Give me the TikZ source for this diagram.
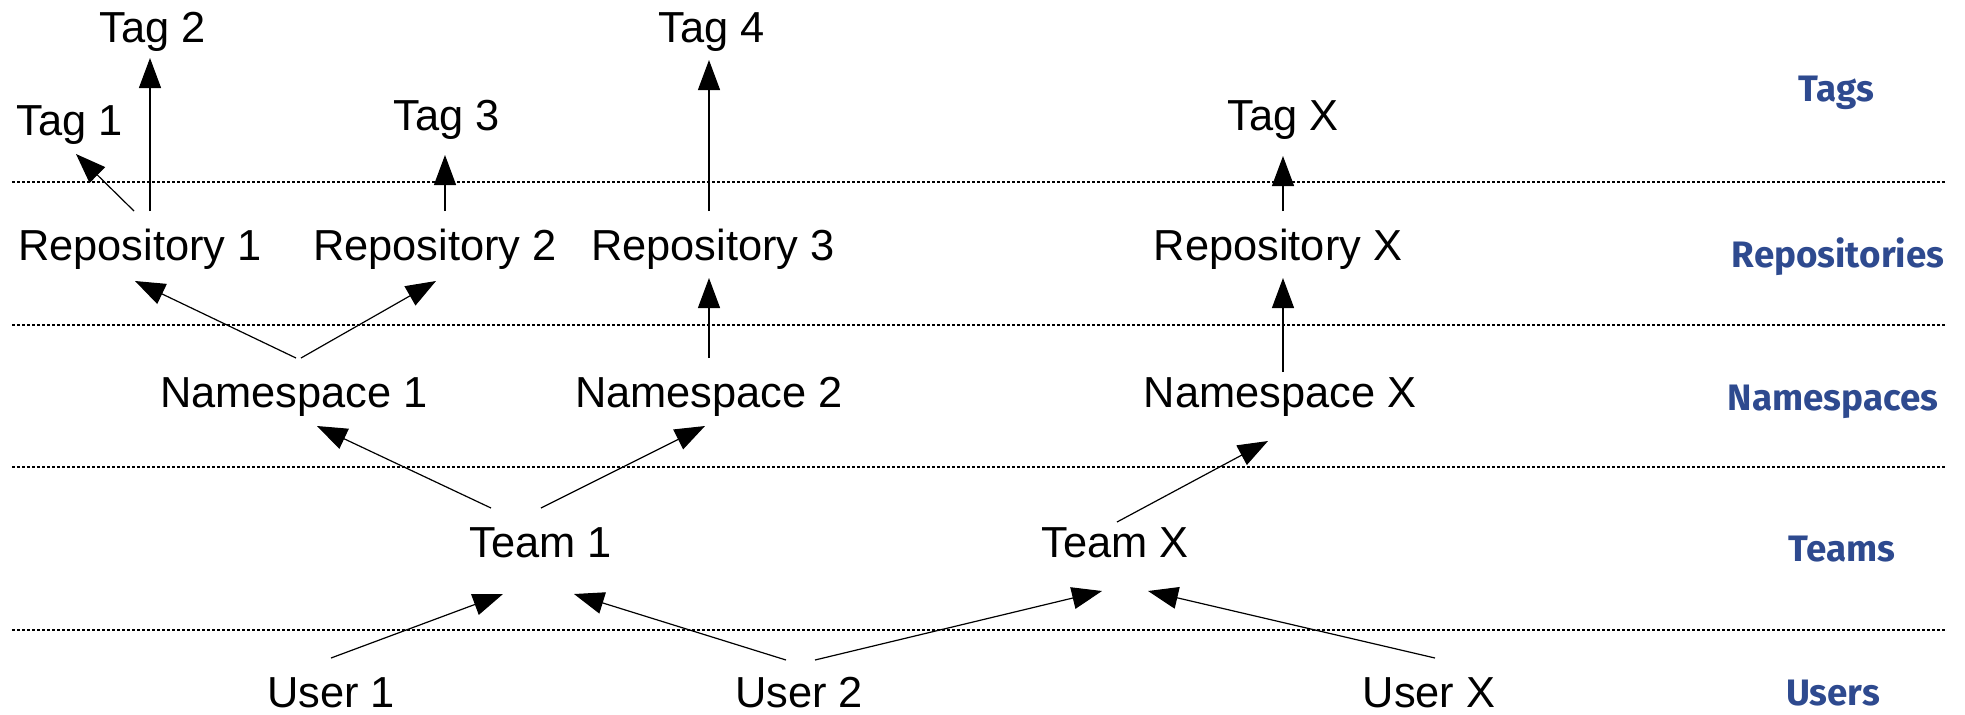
\documentclass[tikz,border=0pt]{standalone}
\usepackage{fontspec}
\setmainfont{Liberation Sans}
\newfontfamily\layerfont{Fira Sans}
\usetikzlibrary{arrows.meta,calc}
\definecolor{layerblue}{HTML}{2E4A8F}
\tikzset{
  item/.style={anchor=base, inner sep=0pt, font=\fontsize{21.7}{26}\selectfont},
  layer/.style={text=layerblue, inner sep=0pt, font=\layerfont\bfseries\fontsize{18.4}{22}\selectfont},
  link/.style={-{Triangle[length=15pt,width=11pt]}, line width=0.6pt},
  sep/.style={dash pattern=on 1.5pt off 1pt, line width=0.6pt}
}
\begin{document}
\begin{tikzpicture}[x=0.5pt,y=-0.5pt]
  \useasboundingbox (0,0) rectangle (1965,714);
  % layer separators
  \foreach \h in {182,325,467,630}
    \draw[sep] (12,\h) -- (1945,\h);

  \node[item] (tag1) at (70,135) {Tag 1};
  \node[item] (tag2) at (153,42) {Tag 2};
  \node[item] (tag3) at (447,130) {Tag 3};
  \node[item] (tag4) at (712,42) {Tag 4};
  \node[item] (tagx) at (1283,130) {Tag X};

  \node[item] (repo1) at (140,260) {Repository 1};
  \node[item] (repo2) at (435,260) {Repository 2};
  \node[item] (repo3) at (713,260) {Repository 3};
  \node[item] (repox) at (1278,260) {Repository X};

  \node[item] (ns1) at (294,407) {Namespace 1};
  \node[item] (ns2) at (709,407) {Namespace 2};
  \node[item] (nsx) at (1280,407) {Namespace X};

  \node[item] (team1) at (541,557) {Team 1};
  \node[item] (teamx) at (1115,557) {Team X};

  \node[item] (user1) at (331,707) {User 1};
  \node[item] (user2) at (799,707) {User 2};
  \node[item] (userx) at (1429,707) {User X};

  \node[layer] (ltags) at (1836,93) {Tags};
  \node[layer] (lrepos) at (1838,257) {Repositories};
  \node[layer] (lns) at (1833,402) {Namespaces};
  \node[layer] (lteams) at (1842,549) {Teams};
  \node[layer] (lusers) at (1833,693) {Users};

  % repositories to tags
  \draw[link] ($(repo1.base)+(-6,-49)$) -- ($(tag1.base)+(6,19)$);
  \draw[link] ($(repo1.base)+(10,-49)$) -- ($(tag2.base)+(-3,16)$);
  \draw[link] ($(repo2.base)+(10,-49)$) -- ($(tag3.base)+(-2,25)$);
  \draw[link] ($(repo3.base)+(-4,-49)$) -- ($(tag4.base)+(-3,18)$);
  \draw[link] ($(repox.base)+(5,-49)$) -- ($(tagx.base)+(0,26)$);

  % namespaces to repositories
  \draw[link] ($(ns1.base)+(2,-49)$) -- ($(repo1.base)+(-5,21)$);
  \draw[link] ($(ns1.base)+(7,-49)$) -- ($(repo2.base)+(1,21)$);
  \draw[link] ($(ns2.base)+(0,-49)$) -- ($(repo3.base)+(-4,18)$);
  \draw[link] ($(nsx.base)+(3,-35)$) -- ($(repox.base)+(5,18)$);

  % teams to namespaces
  \draw[link] ($(team1.base)+(-50,-49)$) -- ($(ns1.base)+(23,19)$);
  \draw[link] ($(team1.base)+(0,-49)$) -- ($(ns2.base)+(-4,19)$);
  \draw[link] ($(teamx.base)+(2,-35)$) -- ($(nsx.base)+(-12,34)$);

  % users to teams
  \draw[link] ($(user1.base)+(0,-49)$) -- ($(team1.base)+(-38,37)$);
  \draw[link] ($(user2.base)+(-13,-47)$) -- ($(team1.base)+(33,37)$);
  \draw[link] ($(user2.base)+(16,-47)$) -- ($(teamx.base)+(-13,34)$);
  \draw[link] ($(userx.base)+(6,-49)$) -- ($(teamx.base)+(33,34)$);
\end{tikzpicture}
\end{document}
